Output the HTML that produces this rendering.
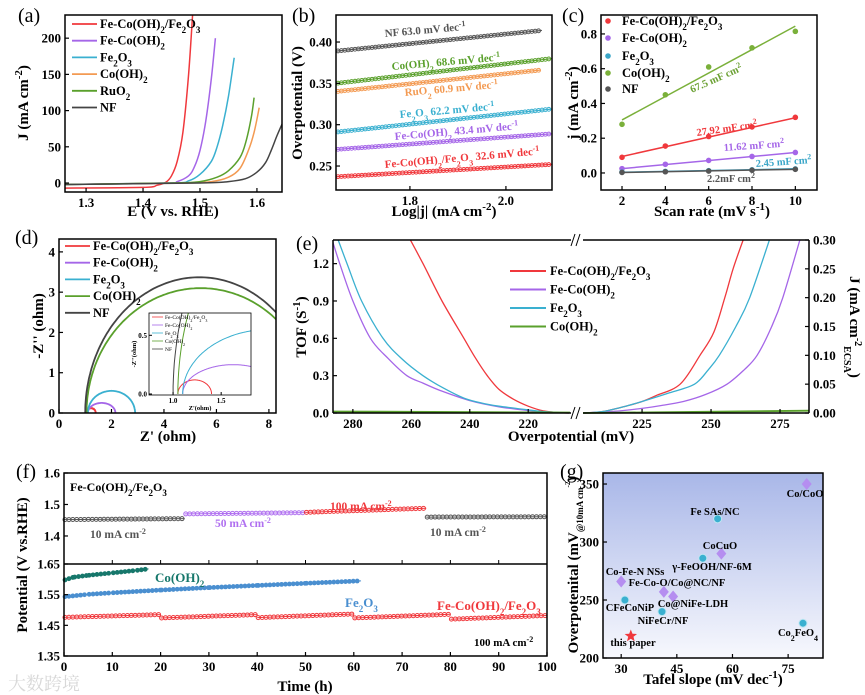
<!DOCTYPE html>
<html><head><meta charset="utf-8">
<style>
html,body{margin:0;padding:0;background:#fff;}
svg{display:block;font-family:"Liberation Serif","Noto Serif CJK SC",serif;font-weight:bold;}
</style></head>
<body>
<svg id="fig" width="865" height="695" viewBox="0 0 865 695" xmlns="http://www.w3.org/2000/svg">
<defs>
<linearGradient id="gbg" x1="0" y1="0" x2="0" y2="1"><stop offset="0" stop-color="#a9b7e8"/><stop offset="1" stop-color="#f7f8fd"/></linearGradient>
<clipPath id="clipA"><rect x="65" y="15" width="217" height="177"/></clipPath>
<clipPath id="clipD"><rect x="59" y="239" width="217" height="174"/></clipPath>
<clipPath id="clipDi"><rect x="149" y="313" width="102" height="82"/></clipPath>
<clipPath id="clipEL"><rect x="333" y="240" width="238" height="174"/></clipPath>
<clipPath id="clipER"><rect x="583" y="240" width="226" height="174"/></clipPath>
</defs>
<rect x="0" y="0" width="865" height="695" fill="#fff"/>
</svg>
<script>
// ---------- DATA ----------
// (a) LSV
const aNames=['Fe-Co(OH)_2/Fe_2O_3','Fe-Co(OH)_2','Fe_2O_3','Co(OH)_2','RuO_2','NF'];
const aColors=['#f0383c','#a566e8','#3ab0d0','#f39a52','#5aa02c','#444'];
const aE=[[1.26,1.40,1.425,1.44,1.45,1.46,1.47,1.48,1.487],
[1.26,1.44,1.46,1.48,1.49,1.50,1.51,1.52,1.527],
[1.26,1.45,1.48,1.50,1.52,1.53,1.54,1.55,1.56],
[1.26,1.47,1.52,1.55,1.57,1.585,1.595,1.604],
[1.26,1.45,1.50,1.53,1.55,1.57,1.58,1.59,1.595],
[1.26,1.50,1.55,1.58,1.60,1.615,1.625,1.635,1.645]];
const aJ=[[-7,-6,-3,1,10,30,70,150,232],
[-2,0,2,10,22,45,85,145,200],
[-2,0,3,12,30,50,80,120,173],
[-2,0,2,8,20,45,70,104],
[-2,0,2,8,17,35,55,90,118],
[-2,0,2,6,15,28,45,65,83]];
// (b) Tafel
const bColors=['#555','#5aa02c','#f39a52','#3ab0d0','#a566e8','#f0383c'];
const bLabels=['NF  63.0 mV dec^-1','Co(OH)_2  68.6 mV dec^-1','RuO_2 60.9 mV dec^-1','Fe_2O_3  62.2 mV dec^-1','Fe-Co(OH)_2 43.4  mV dec^-1','Fe-Co(OH)_2/Fe_2O_3  32.6  mV dec^-1'];
const bXStart=[1.646,1.646,1.646,1.646,1.646,1.646];
const bXEnd=[2.075,2.096,2.071,2.096,2.096,2.096];
const bYStart=[0.389,0.350,0.340,0.291,0.270,0.237];
const bYEnd=[0.414,0.380,0.366,0.319,0.289,0.252];
// (c) Cdl
const cNames=['Fe-Co(OH)_2/Fe_2O_3','Fe-Co(OH)_2','Fe_2O_3','Co(OH)_2','NF'];
const cColors=['#f0383c','#a566e8','#3aa6c8','#7ab03a','#555'];
const cRates=[2,4,6,8,10];
const cJ=[[0.09,0.155,0.21,0.265,0.32],[0.025,0.05,0.072,0.095,0.118],[0.005,0.009,0.013,0.018,0.023],[0.28,0.45,0.61,0.72,0.815],[0.003,0.007,0.011,0.016,0.021]];
const cFitStart=[0.095,0.025,0.004,0.305,0.003];
const cFitEnd=[0.318,0.118,0.024,0.845,0.021];
// (d) EIS semicircles
const dNames=['Fe-Co(OH)_2/Fe_2O_3','Fe-Co(OH)_2','Fe_2O_3','Co(OH)_2','NF'];
const dColors=['#f0383c','#a566e8','#3ab0d0','#5aa02c','#444'];
const dCenter=[1.225,1.625,2.0,5.4,5.35];
const dRx=[0.175,0.525,0.9,4.35,4.35];
const dRy=[0.12,0.25,0.55,3.1,3.37];
// (e) TOF / J
const eNames=['Fe-Co(OH)_2/Fe_2O_3','Fe-Co(OH)_2','Fe_2O_3','Co(OH)_2'];
const eColors=['#f0383c','#a566e8','#3ab0d0','#5aa02c'];
const eTofEta=[[206,210,215,220,225,230,234,238,242,249.5,256,261],[206,210,215,220,230,240,250,256,261.5,268,274,280,284.5,287.5],[206,210,215,220,230,236,242,249,256,263,269.7,277,282,285.5]];
const eTof=[[0,0.004,0.018,0.055,0.11,0.19,0.3,0.44,0.6,0.9,1.2,1.42],[0,0.004,0.01,0.02,0.05,0.1,0.18,0.24,0.3,0.44,0.6,0.9,1.2,1.42],[0,0.005,0.012,0.025,0.055,0.08,0.12,0.2,0.3,0.43,0.6,0.9,1.2,1.42]];
const eTofGreen=[0.012,0.004];
const eJEta=[[204,210,215,220,225,230,238.8,246,251,255,258,262],[204,215,225,232,240,248,255.8,262,266.7,272,276,282.5],[204,210,215,220,225,235,244,249,253,259,264,271.5]];
const eJ=[[0,0.002,0.007,0.013,0.02,0.03,0.05,0.1,0.14,0.2,0.25,0.305],[0,0.003,0.008,0.013,0.02,0.032,0.05,0.075,0.1,0.15,0.2,0.305],[0,0.002,0.007,0.013,0.02,0.035,0.05,0.075,0.1,0.15,0.2,0.305]];
const eJGreen=[0,0.004];
// (f) stability
const fTopStart=[0,25,50,75], fTopEnd=[25,50,75,100];
const fTopV0=[1.452,1.470,1.475,1.460], fTopV1=[1.455,1.474,1.488,1.461];
const fTopColors=['#555','#b070f0','#f0383c','#555'];
const fRedStart=[0,20,40,60,80], fRedEnd=[20,40,60,80,100];
const fRedV0=[1.476,1.474,1.475,1.474,1.470], fRedV1=[1.485,1.485,1.487,1.486,1.482];
const fCoT=[0,2,5,10,15,17.5], fCoV=[1.597,1.607,1.613,1.621,1.629,1.634];
const fFeT=[0,5,10,20,30,40,50,61.5], fFeV=[1.543,1.551,1.556,1.565,1.573,1.58,1.587,1.595];
// (g) comparison
const gNames=['Co/CoO','Fe SAs/NC','CoCuO','γ-FeOOH/NF-6M','Co-Fe-N NSs','Fe-Co-O/Co@NC/NF','Co@NiFe-LDH','CFeCoNiP','NiFeCr/NF','Co_2FeO_4','this paper'];
const gTafel=[80,56,57,52,30,41.5,44,31,41,79,32.6];
const gEta=[350,320,290,286,266,257,253,250,240,230,219];
const gShape=['d','c','d','c','d','d','d','c','c','c','s'];
const gLabX=[805,715,720,712,635,677,693,630,663,798,633];
const gLabY=[497,515,549,570,575,586,607,611,624,636,646];

// ---------- HELPERS ----------
const NS='http://www.w3.org/2000/svg';
const svg=document.getElementById('fig');
function el(tag,attrs,parent){const e=document.createElementNS(NS,tag);for(const k in attrs)e.setAttribute(k,attrs[k]);(parent||svg).appendChild(e);return e;}
function sc(d0,d1,p0,p1){return v=>p0+(v-d0)/(d1-d0)*(p1-p0);}
function fmt(s,fs){const small=Math.round(fs*0.72);
 return s.replace(/_(\d)/g,'<tspan baseline-shift="sub" font-size="'+small+'">$1</tspan>').replace(/\^(-?\d)/g,'<tspan baseline-shift="super" font-size="'+small+'">$1</tspan>');}
function txt(x,y,s,fs,opt,parent){opt=opt||{};const t=el('text',Object.assign({x:x,y:y,'font-size':fs,fill:opt.fill||'#000','text-anchor':opt.anchor||'start'},opt.attrs||{}),parent);
 if(opt.rot)t.setAttribute('transform','rotate('+opt.rot+' '+x+' '+y+')');
 if(opt.normal)t.setAttribute('font-weight','normal');
 t.innerHTML=fmt(s,fs);return t;}
function path(pts,color,w,parent,clip){const d=pts.map((p,i)=>(i?'L':'M')+p[0].toFixed(1)+' '+p[1].toFixed(1)).join('');
 const p=el('path',{d:d,fill:'none',stroke:color,'stroke-width':w||1.5},parent);if(clip)p.setAttribute('clip-path','url(#'+clip+')');return p;}
function cr(pts,color,w,parent,clip){let d='M'+pts[0][0].toFixed(1)+' '+pts[0][1].toFixed(1);
 for(let i=0;i<pts.length-1;i++){const p0=pts[Math.max(0,i-1)],p1=pts[i],p2=pts[i+1],p3=pts[Math.min(pts.length-1,i+2)];
  const c1=[p1[0]+(p2[0]-p0[0])/6,p1[1]+(p2[1]-p0[1])/6],c2=[p2[0]-(p3[0]-p1[0])/6,p2[1]-(p3[1]-p1[1])/6];
  d+='C'+c1[0].toFixed(1)+' '+c1[1].toFixed(1)+' '+c2[0].toFixed(1)+' '+c2[1].toFixed(1)+' '+p2[0].toFixed(1)+' '+p2[1].toFixed(1);}
 const p=el('path',{d:d,fill:'none',stroke:color,'stroke-width':w||1.5},parent);if(clip)p.setAttribute('clip-path','url(#'+clip+')');return p;}
function frame(x0,y0,x1,y1,g,w){return el('rect',{x:x0,y:y0,width:x1-x0,height:y1-y0,fill:'none',stroke:'#000','stroke-width':w||1.5},g);}
function xticks(g,sx,vals,labels,yb,fs){vals.forEach((v,i)=>{const x=sx(v);el('line',{x1:x,x2:x,y1:yb,y2:yb-4,stroke:'#000','stroke-width':1.2},g);
 const t=txt(x,yb+15,labels[i],fs||13,{anchor:'middle'},g);
 
 });}
function yticks(g,sy,vals,labels,xb,fs,right){vals.forEach((v,i)=>{const y=sy(v);el('line',{x1:xb,x2:right?xb-4:xb+4,y1:y,y2:y,stroke:'#000','stroke-width':1.2},g);
 const t=txt(right?xb+4:xb-4,y+4.5,labels[i],fs||13,{anchor:right?'start':'end'},g);
 
 });}
function grp(name){const g=el('g',{});
 
 
 return g;}

// ---------- PANEL A ----------
(function(){const g=grp('panel-a-lsv');
 const sx=sc(1.263,1.644,65,282), sy=sc(-12.4,232,192,15);
 aE.forEach((es,k)=>{const pts=es.map((e,i)=>[sx(e),sy(aJ[k][i])]);
  const p=cr(pts,aColors[k],1.5,g,'clipA');
  
  });
 frame(65,15,282,192,g);
 xticks(g,sx,[1.3,1.4,1.5,1.6],['1.3','1.4','1.5','1.6'],192);
 yticks(g,sy,[0,50,100,150,200],['0','50','100','150','200'],65);
 aNames.forEach((n,i)=>{const y=28+i*16.7;el('line',{x1:72,x2:97,y1:y-4,y2:y-4,stroke:aColors[i],'stroke-width':1.8},g);
  const t=txt(100,y,n,12.5,{},g);
  
  });
 txt(28,103,'J (mA cm^-2)',15,{anchor:'middle',rot:-90},g);
 txt(173,216,'E (V vs. RHE)',15,{anchor:'middle'},g);
 txt(18,22,'(a)',20,{normal:true},g);
})();

// ---------- PANEL B ----------
(function(){const g=grp('panel-b-tafel');
 const sx=sc(1.646,2.096,336,552), sy=sc(0.221,0.4327,190,15);
 bColors.forEach((c,k)=>{const x0=sx(bXStart[k]),x1=sx(bXEnd[k]),y0=sy(bYStart[k]),y1=sy(bYEnd[k]);
  el('line',{x1:x0,y1:y0,x2:x1,y2:y1,stroke:c,'stroke-width':1.2},g);
  for(let x=x0+2;x<=x1;x+=3.4){const y=y0+(y1-y0)*(x-x0)/(x1-x0);const m=el('circle',{cx:x,cy:y,r:1.9,fill:'none',stroke:c,'stroke-width':1},g);
   
   }
 });
 const lp=[[385,37],[392,70],[405,96],[400,118],[395,140],[385,168]];
 bLabels.forEach((s,k)=>{txt(lp[k][0],lp[k][1],s,11,{fill:bColors[k],rot:-5},g);});
 frame(336,15,552,190,g);
 xticks(g,sx,[1.8,2.0],['1.8','2.0'],190);
 yticks(g,sy,[0.25,0.30,0.35,0.40],['0.25','0.30','0.35','0.40'],336);
 txt(302,103,'Overpotential (V)',15,{anchor:'middle',rot:-90},g);
 txt(444,216,'Log|j| (mA cm^-2)',15,{anchor:'middle'},g);
 txt(292,22,'(b)',20,{normal:true},g);
})();

// ---------- PANEL C ----------
(function(){const g=grp('panel-c-cdl');
 const sx=sc(1.03,11.0,601,817), sy=sc(-0.098,0.909,190,15);
 cJ.forEach((arr,k)=>{el('line',{x1:sx(2),y1:sy(cFitStart[k]),x2:sx(10),y2:sy(cFitEnd[k]),stroke:cColors[k],'stroke-width':1.5},g);
  arr.forEach((v,i)=>{const m=el('circle',{cx:sx(cRates[i]),cy:sy(v),r:2.8,fill:cColors[k]},g);
   
   });});
 frame(601,15,817,190,g);
 xticks(g,sx,[2,4,6,8,10],['2','4','6','8','10'],190);
 yticks(g,sy,[0,0.2,0.4,0.6,0.8],['0.0','0.2','0.4','0.6','0.8'],601);
 const ly=[25,42,60,77,93];
 cNames.forEach((n,i)=>{el('circle',{cx:608,cy:ly[i]-4,r:2.8,fill:cColors[i]},g);
  const t=txt(622,ly[i],n,12.5,{},g);
  
  });
 txt(692,93,'67.5 mF cm^2',10.5,{fill:'#6aa032',rot:-24},g);
 txt(697,136,'27.92 mF cm^2',10.5,{fill:'#f0383c',rot:-8},g);
 txt(724,151,'11.62 mF cm^2',10.5,{fill:'#a566e8',rot:-4},g);
 txt(756,167,'2.45 mF cm^2',10.5,{fill:'#3aa6c8',rot:-4},g);
 txt(707,182,'2.2mF cm^2',10.5,{fill:'#555'},g);
 txt(578,103,'j (mA cm^-2)',15,{anchor:'middle',rot:-90},g);
 txt(712,216,'Scan rate (mV s^-1)',15,{anchor:'middle'},g);
 txt(562,22,'(c)',20,{normal:true},g);
})();

// ---------- PANEL D ----------
(function(){const g=grp('panel-d-eis');
 const sx=sc(0,8.27,59,276), sy=sc(0,4.32,413,239);
 function arcs(sxf,syf,clip,w){dCenter.forEach((c,k)=>{const pts=[];for(let i=0;i<=160;i++){const a=Math.PI*(1-i/160);pts.push([sxf(c+dRx[k]*Math.cos(a)),syf(dRy[k]*Math.sin(a))]);}
  const p=path(pts,dColors[k],w,g,clip);
  
  });}
 arcs(sx,sy,'clipD',1.8);
 frame(59,239,276,413,g);
 xticks(g,sx,[0,2,4,6,8],['0','2','4','6','8'],413);
 yticks(g,sy,[0,1,2,3,4],['0','1','2','3','4'],59);
 dNames.forEach((n,i)=>{const y=250+i*16.7;el('line',{x1:65,x2:90,y1:y-4,y2:y-4,stroke:dColors[i],'stroke-width':1.8},g);
  const t=txt(93,y,n,12.5,{},g);
  
  });
 const ix=sc(0.75,1.81,149,251), iy=sc(0,0.69,394,313);
 el('rect',{x:149,y:313,width:102,height:82,fill:'#fff'},g);
 arcs(ix,iy,'clipDi',1);
 frame(149,313,251,395,g,0.8);
 [[1.0,'1.0'],[1.5,'1.5']].forEach(t=>{el('line',{x1:ix(t[0]),x2:ix(t[0]),y1:395,y2:392,stroke:'#000'},g);txt(ix(t[0]),403,t[1],7,{anchor:'middle'},g);});
 [[0,'0.0'],[0.5,'0.5']].forEach(t=>{el('line',{x1:149,x2:152,y1:iy(t[0]),y2:iy(t[0]),stroke:'#000'},g);txt(147,iy(t[0])+2.5,t[1],7,{anchor:'end'},g);});
 dNames.forEach((n,i)=>{const y=319+i*8;el('line',{x1:152,x2:163,y1:y-2,y2:y-2,stroke:dColors[i],'stroke-width':0.8},g);txt(165,y,n,5.5,{normal:true},g);});
 txt(136,354,"-Z''(ohm)",6.5,{anchor:'middle',rot:-90},g);
 txt(200,410,"Z'(ohm)",6.5,{anchor:'middle'},g);
 txt(43,326,"-Z'' (ohm)",15,{anchor:'middle',rot:-90},g);
 txt(168,441,"Z' (ohm)",15,{anchor:'middle'},g);
 txt(15,244,'(d)',20,{normal:true},g);
})();

// ---------- PANEL E ----------
(function(){const g=grp('panel-e-tof');
 const sxL=sc(286.8,205.7,333,570), sxR=sc(203.6,285.5,583,809);
 const syL=sc(0,1.39,413,240), syR=sc(0,0.30,413,240);
 eTofEta.forEach((xs,k)=>{const p=cr(xs.map((x,i)=>[sxL(x),syL(eTof[k][i])]),eColors[k],1.3,g,'clipEL');
  
  });
 eJEta.forEach((xs,k)=>{const p=cr(xs.map((x,i)=>[sxR(x),syR(eJ[k][i])]),eColors[k],1.3,g,'clipER');
  
  });
 const gl=el('line',{x1:sxL(286.8),x2:sxL(205.7),y1:syL(eTofGreen[0]),y2:syL(eTofGreen[1]),stroke:'#5aa02c','stroke-width':1.8},g);
 
 
 const gr=el('line',{x1:sxR(203.6),x2:sxR(285.5),y1:syR(eJGreen[0]),y2:syR(eJGreen[1]),stroke:'#5aa02c','stroke-width':1.8},g);
 
 
 const ax={stroke:'#000','stroke-width':1.5};
 el('line',Object.assign({x1:333,x2:571,y1:240,y2:240},ax),g);el('line',Object.assign({x1:583,x2:809,y1:240,y2:240},ax),g);
 el('line',Object.assign({x1:333,x2:571,y1:413,y2:413},ax),g);el('line',Object.assign({x1:583,x2:809,y1:413,y2:413},ax),g);
 el('line',Object.assign({x1:333,x2:333,y1:240,y2:413},ax),g);el('line',Object.assign({x1:809,x2:809,y1:240,y2:413},ax),g);
 [240,413].forEach(y=>{[573,578].forEach(x=>el('line',{x1:x-2,x2:x+2,y1:y+6,y2:y-6,stroke:'#000','stroke-width':1},g));});
 xticks(g,sxL,[280,260,240,220],['280','260','240','220'],413);
 xticks(g,sxR,[225,250,275],['225','250','275'],413);
 yticks(g,syL,[0,0.3,0.6,0.9,1.2],['0.0','0.3','0.6','0.9','1.2'],333);
 yticks(g,syR,[0,0.05,0.10,0.15,0.20,0.25,0.30],['0.00','0.05','0.10','0.15','0.20','0.25','0.30'],809,13,true);
 eNames.forEach((n,i)=>{const y=275+i*18.5;el('line',{x1:510,x2:546,y1:y-4,y2:y-4,stroke:eColors[i],'stroke-width':2},g);
  const t=txt(550,y,n,12.5,{},g);
  
  });
 txt(306,327,'TOF (S^-1)',15,{anchor:'middle',rot:-90},g);
 txt(571,441,'Overpotential (mV)',15,{anchor:'middle'},g);
 const t=el('text',{x:850,y:327,'font-size':15,'text-anchor':'middle',transform:'rotate(90 850 327)'},g);
 t.innerHTML='J (mA cm<tspan baseline-shift="super" font-size="10">-2</tspan><tspan baseline-shift="sub" font-size="10">ECSA</tspan>)';
 txt(296,250,'(e)',20,{normal:true},g);
})();

// ---------- PANEL F ----------
(function(){const g=grp('panel-f-stability');
 const sx=sc(0,100,64,547), syT=sc(1.311,1.6,564,473), syB=sc(1.35,1.65,656,564);
 function seg(t0,t1,v0,v1,sy,c,shape){const x0=sx(t0),x1=sx(t1);el('line',{x1:x0,x2:x1,y1:sy(v0),y2:sy(v1),stroke:c,'stroke-width':1},g);
  for(let x=x0+1;x<=x1;x+=3.9){const y=sy(v0)+(sy(v1)-sy(v0))*(x-x0)/(x1-x0);
   const m=shape==='s'?el('circle',{cx:x,cy:y,r:2.4,fill:c},g):el('circle',{cx:x,cy:y,r:2,fill:'none',stroke:c,'stroke-width':1},g);
   
   }}
 fTopStart.forEach((t,i)=>seg(t,fTopEnd[i],fTopV0[i],fTopV1[i],syT,fTopColors[i],'o'));
 fRedStart.forEach((t,i)=>seg(t,fRedEnd[i],fRedV0[i],fRedV1[i],syB,'#f0383c','o'));
 for(let i=0;i<fCoT.length-1;i++)seg(fCoT[i],fCoT[i+1],fCoV[i],fCoV[i+1],syB,'#16776b','s');
 for(let i=0;i<fFeT.length-1;i++)seg(fFeT[i],fFeT[i+1],fFeV[i],fFeV[i+1],syB,'#4a8fd0','s');
 frame(64,473,547,656,g);
 el('line',{x1:64,x2:547,y1:564,y2:564,stroke:'#000','stroke-width':1.5},g);
 [0,10,20,30,40,50,60,70,80,90,100].forEach(v=>el('line',{x1:sx(v),x2:sx(v),y1:564,y2:560,stroke:'#000'},g));
 xticks(g,sx,[0,10,20,30,40,50,60,70,80,90,100],['0','10','20','30','40','50','60','70','80','90','100'],656);
 yticks(g,syT,[1.4,1.5,1.6],['1.4','1.5','1.6'],64);
 yticks(g,syB,[1.35,1.45,1.55,1.65],['1.35','1.45','1.55','1.65'],64);
 txt(70,491,'Fe-Co(OH)_2/Fe_2O_3',12,{},g);
 txt(90,538,'10 mA cm^-2',11.5,{fill:'#555'},g);
 txt(215,527,'50 mA cm^-2',11.5,{fill:'#b070f0'},g);
 txt(330,510,'100 mA cm^-2',11.5,{fill:'#f0383c'},g);
 txt(430,536,'10 mA cm^-2',11.5,{fill:'#555'},g);
 txt(155,582,'Co(OH)_2',13,{fill:'#16776b'},g);
 txt(345,607,'Fe_2O_3',13,{fill:'#4a8fd0'},g);
 txt(437,610,'Fe-Co(OH)_2/Fe_2O_3',13,{fill:'#f0383c'},g);
 txt(474,646,'100 mA cm^-2',11,{},g);
 txt(27,565,'Potential (V vs.RHE)',15,{anchor:'middle',rot:-90},g);
 txt(305,691,'Time (h)',15,{anchor:'middle'},g);
 txt(16,478,'(f)',20,{normal:true},g);
 const w=txt(8,690,'大数跨境',18,{fill:'#d8d8d8',normal:true},g);
 
 
})();

// ---------- PANEL G ----------
(function(){const g=grp('panel-g-comparison');
 const sx=sc(25.1,84.4,603,823), sy=sc(200,359.5,658,473);
 el('rect',{x:603,y:473,width:220,height:185,fill:'url(#gbg)'},g);
 gTafel.forEach((v,i)=>{const x=sx(v),y=sy(gEta[i]);let m;
  if(gShape[i]==='d')m=el('path',{d:`M${x} ${y-6}L${x+5} ${y}L${x} ${y+6}L${x-5} ${y}Z`,fill:'#b58ef0'},g);
  else if(gShape[i]==='c')m=el('circle',{cx:x,cy:y,r:4,fill:'#3ab0d0',stroke:'#bfe6f2','stroke-width':1},g);
  else{let d='';for(let k=0;k<10;k++){const r=k%2?2.8:6.5,a=-Math.PI/2+k*Math.PI/5;d+=(k?'L':'M')+(x+r*Math.cos(a)).toFixed(1)+' '+(y+r*Math.sin(a)).toFixed(1);}m=el('path',{d:d+'Z',fill:'#f0383c'},g);}
  
  
  txt(gLabX[i],gLabY[i],gNames[i],10.5,{anchor:'middle'},g);});
 frame(603,473,823,658,g);
 xticks(g,sx,[30,45,60,75],['30','45','60','75'],658);
 yticks(g,sy,[200,250,300,350],['200','250','300','350'],603);
 const t=el('text',{x:578,y:565,'font-size':15,'text-anchor':'middle',transform:'rotate(-90 578 565)'},g);
 t.innerHTML='Overpotenital (mV<tspan baseline-shift="sub" font-size="9">@10mA cm</tspan><tspan font-size="7" dy="-8">-2</tspan><tspan dy="8">)</tspan>';
 txt(713,684,'Tafel slope (mV dec^-1)',15,{anchor:'middle'},g);
 txt(560,478,'(g)',20,{normal:true},g);
})();
</script>
</body></html>
